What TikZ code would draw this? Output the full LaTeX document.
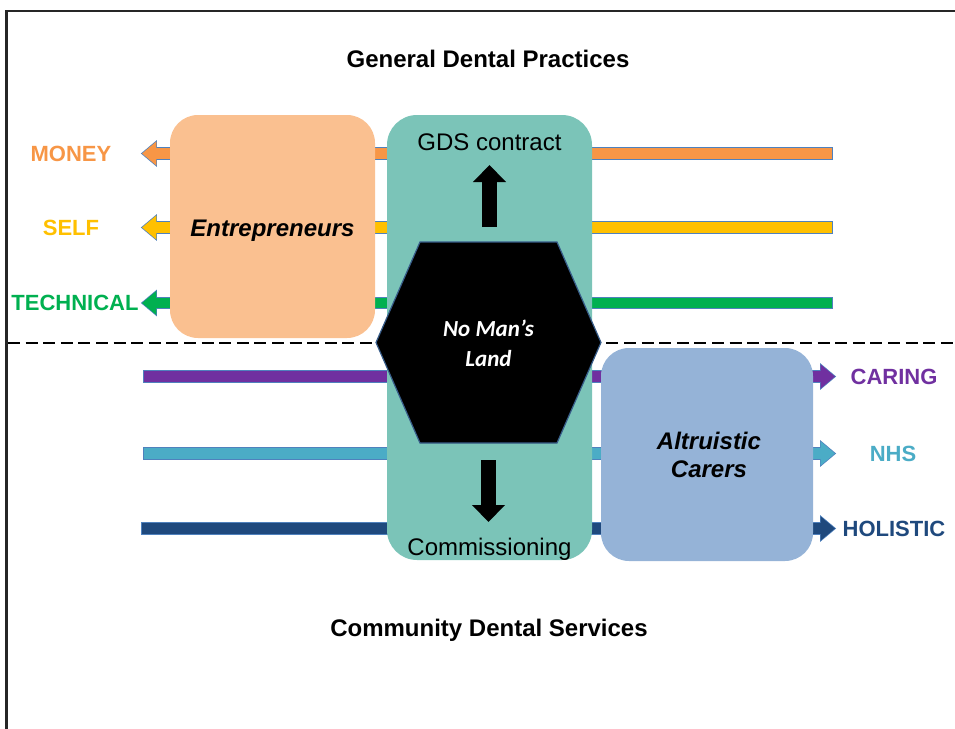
\documentclass[tikz,border=0pt]{standalone}
\usepackage{fontspec}
\setmainfont{Liberation Sans}
\newfontfamily\calibri{Carlito}
\usetikzlibrary{arrows.meta,positioning}

\definecolor{moneyc}{HTML}{F79646}
\definecolor{selfc}{HTML}{FFC000}
\definecolor{techc}{HTML}{00B050}
\definecolor{caringc}{HTML}{7030A0}
\definecolor{nhsc}{HTML}{4BACC6}
\definecolor{holic}{HTML}{1F497D}
\definecolor{edgec}{HTML}{4F81BD}
\definecolor{entc}{HTML}{FAC090}
\definecolor{tealc}{HTML}{7BC4B8}
\definecolor{altc}{HTML}{95B3D7}
\definecolor{hexedge}{HTML}{385D8A}

\tikzset{
	box/.style={rounded corners=14pt, inner sep=0pt},
	lab/.style={font=\fontsize{11}{13}\selectfont\bfseries, inner sep=0pt},
	barline/.style={line width=6.2pt, draw=edgec, shorten <=-0.5pt, shorten >=-0.6pt,
		-{Triangle[length=8pt,width=12.8pt]}},
	bar/.style={line width=5.2pt, -{Triangle[length=7.2pt,width=11.6pt]}},
	blockarrow/.style={line width=7.5pt, draw=black, -{Triangle[length=8.5pt,width=16pt]}},
}
% one coloured pipe with its thin blue rim
\def\pipe[#1](#2)(#3){\draw[barline] (#2) -- (#3); \draw[bar, #1] (#2) -- (#3);}

\begin{document}
\begin{tikzpicture}[x=0.5pt, y=-0.5pt]
			%%%%% START %%%%%
			\useasboundingbox (0,0) rectangle (955,729);
			
			% frame, cut at the right and bottom
			\draw[line width=1.2pt, color=black!85] (955,11) -- (6.5,11) -- (6.5,729);
			
			% titles
			\node[anchor=base, font=\fontsize{12}{14}\selectfont\bfseries] (gdp) at (488,67) {General Dental Practices};
			\node[anchor=base, font=\fontsize{12}{14}\selectfont\bfseries] (cds) at (489,636) {Community Dental Services};
			
			% pipe labels
			\node[lab, text=moneyc] (money) at (71,154) {MONEY};
			\node[lab, text=selfc] (self) at (71,227.5) {SELF};
			\node[lab, text=techc] (tech) at (75,303) {TECHNICAL};
			\node[lab, text=caringc] (caring) at (894,376.5) {CARING};
			\node[lab, text=nhsc] (nhs) at (893,454) {NHS};
			\node[lab, text=holic] (holistic) at (894,528.5) {HOLISTIC};
			
			% pipe ends
			\coordinate (moneyR) at (832,153.5);
			\coordinate (moneyL) at (142,153.5);
			\coordinate (selfR) at (832,227.5);
			\coordinate (selfL) at (142,227.5);
			\coordinate (techR) at (832,303);
			\coordinate (techL) at (142,303);
			\coordinate (caringL) at (144,376.5);
			\coordinate (caringR) at (835,376.5);
			\coordinate (nhsL) at (144,453.5);
			\coordinate (nhsR) at (835,453.5);
			\coordinate (holisticL) at (142,528.5);
			\coordinate (holisticR) at (835,528.5);
			
			\pipe[draw=moneyc](moneyR)(moneyL)
			\pipe[draw=selfc](selfR)(selfL)
			\pipe[draw=techc](techR)(techL)
			\pipe[draw=caringc](caringL)(caringR)
			\pipe[draw=nhsc](nhsL)(nhsR)
			\pipe[draw=holic](holisticL)(holisticR)
			
			% dividing line
			\draw[line width=0.8pt, dash pattern=on 6pt off 2.8pt] (8,343) -- (955,343);
			
			% the three boxes
			\node[box, fill=entc, minimum width=102.5pt, minimum height=111.5pt] (ent) at (272.5,226.5) {};
			\node[font=\fontsize{12}{14}\selectfont\bfseries\itshape, anchor=base] at (272.5,236) {Entrepreneurs};
			
			\node[box, rounded corners=15pt, fill=tealc, minimum width=102.5pt, minimum height=222.5pt] (mid) at (489.5,337.5) {};
			\node[font=\fontsize{12}{14}\selectfont, anchor=base] (gds) at (489.5,150) {GDS contract};
			\node[font=\fontsize{12}{14}\selectfont, anchor=base] (comm) at (489.5,555) {Commissioning};
			
			\node[box, fill=altc, minimum width=106pt, minimum height=106.5pt] (alt) at (707,454.5) {};
			\node[font=\fontsize{12}{14}\selectfont\bfseries\itshape, align=center] at (709,455) {Altruistic\\Carers};
			
			% hexagon in the middle
			\draw[fill=black, draw=hexedge, line width=0.6pt] (420,242) -- (557,242) -- (601,342.5) -- (557,443) -- (420,443) -- (376,342.5) -- cycle;
			\node[font=\fontsize{11.5}{15}\selectfont\calibri\bfseries\itshape, text=white, align=center] (nml) at (488.5,343.5) {No Man’s\\Land};
			
			% up and down arrows
			\coordinate (upS) at (489.5,227);
			\coordinate (upT) at (489.5,165);
			\coordinate (downS) at (488.5,460);
			\coordinate (downT) at (488.5,522);
			\draw[blockarrow] (upS) -- (upT);
			\draw[blockarrow] (downS) -- (downT);
			
			%%%%% END %%%%%
\end{tikzpicture}
\end{document}
